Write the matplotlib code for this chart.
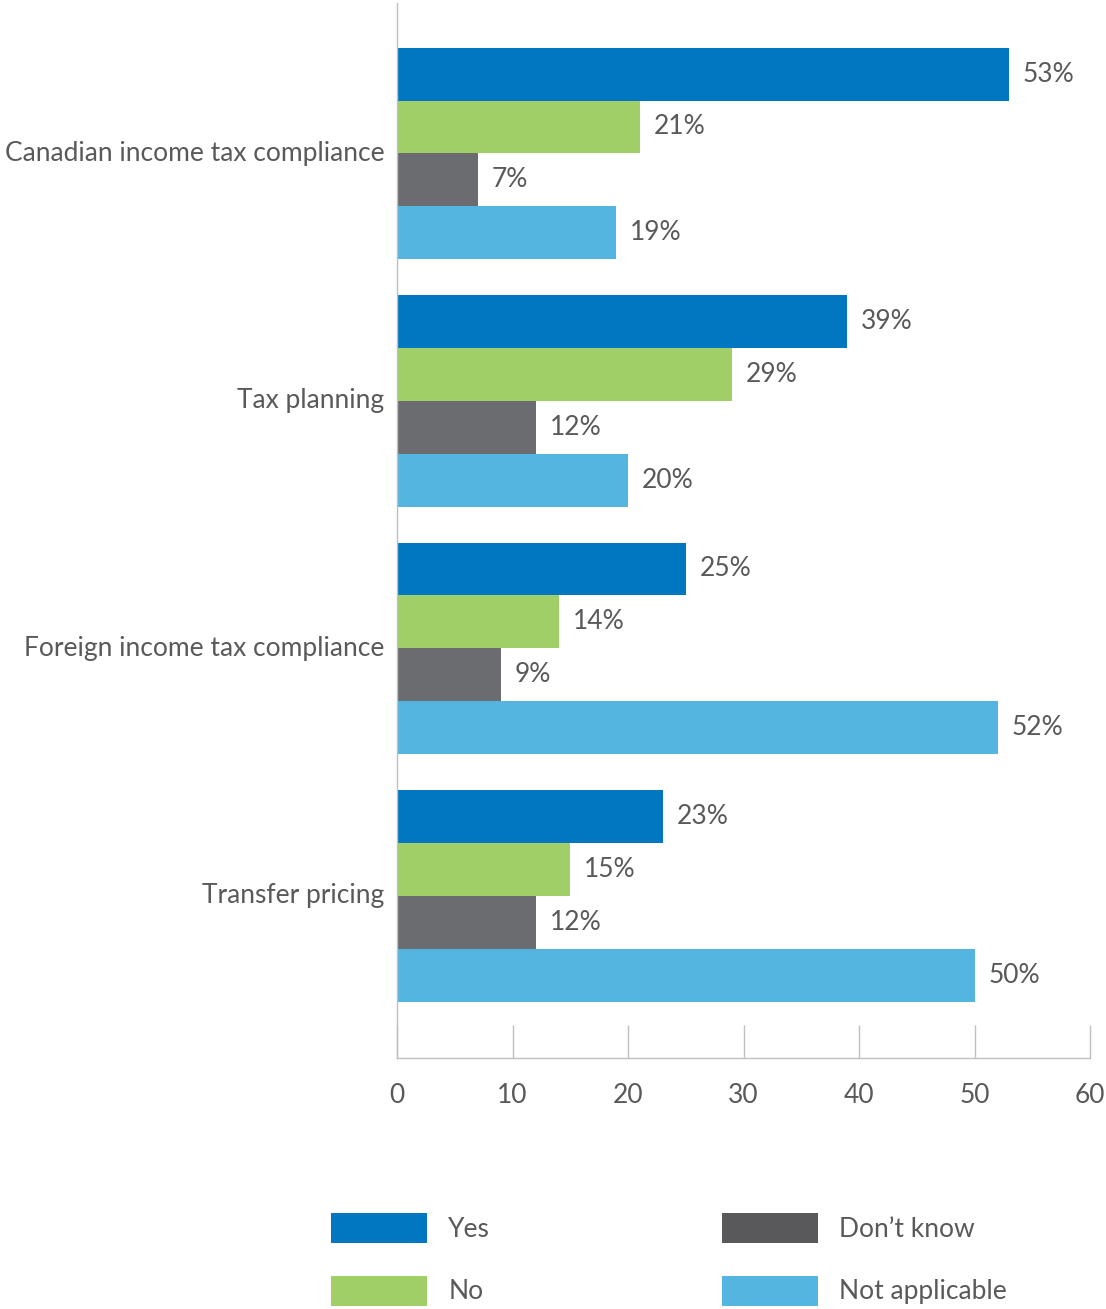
import matplotlib
matplotlib.use("Agg")
import matplotlib.pyplot as plt
from matplotlib.patches import Patch

categories = ["Canadian income tax compliance", "Tax planning",
              "Foreign income tax compliance", "Transfer pricing"]
series = ["Yes", "No", "Don\u2019t know", "Not applicable"]
yes = [53, 39, 25, 23]
no = [21, 29, 14, 15]
dont_know = [7, 12, 9, 12]
not_applicable = [19, 20, 52, 50]
x_ticks = [0, 10, 20, 30, 40, 50, 60]

values = [yes, no, dont_know, not_applicable]
bar_colors = ["#0077C0", "#A1CF67", "#6B6C70", "#54B6E0"]
legend_colors = ["#0077C0", "#A1CF67", "#59595B", "#54B6E0"]
text_color = "#595959"
axis_color = "#BFBFBF"

plt.rcParams["font.family"] = ["Lato", "DejaVu Sans"]
FS = 19

W, H = 1106, 1309
fig = plt.figure(figsize=(W / 100, H / 100), dpi=100)
ax = fig.add_axes([397 / W, 1 - 1058 / H, (1090 - 397) / W, (1058 - 3) / H])

bar_h = 0.214
for s, (vals, col) in enumerate(zip(values, bar_colors)):
    for g, v in enumerate(vals):
        yc = g + (s - 1.5) * bar_h
        ax.barh(yc, v, height=bar_h, color=col, linewidth=0)
        ax.annotate(f"{v}%", xy=(v, yc), xytext=(10, 0), textcoords="offset points",
                    ha="left", va="center", fontsize=FS, color=text_color)

ax.set_xlim(0, 60)
ax.set_ylim(3.655, -0.608)
ax.set_xticks(x_ticks)
ax.set_xticklabels([str(t) for t in x_ticks], fontsize=FS, color=text_color)
ax.tick_params(axis="x", direction="in", length=24, width=1, color=axis_color, pad=18)
ax.set_yticks(range(len(categories)))
ax.set_yticklabels(categories, fontsize=FS, color=text_color, va="center")
ax.tick_params(axis="y", length=0, pad=9)

for side in ["top", "right"]:
    ax.spines[side].set_visible(False)
for side in ["left", "bottom"]:
    ax.spines[side].set_color(axis_color)
    ax.spines[side].set_linewidth(1)

handles = [Patch(facecolor=c, edgecolor="none") for c in legend_colors]
legend_kw = dict(frameon=False, fontsize=FS, labelcolor=text_color, loc="upper left",
                 borderpad=0, borderaxespad=0, handlelength=3.64, handleheight=1.36,
                 handletextpad=0.8, labelspacing=1.25)
leg1 = fig.legend(handles[:2], series[:2], bbox_to_anchor=(331 / W, 1 - 1213 / H), **legend_kw)
leg2 = fig.legend(handles[2:], series[2:], bbox_to_anchor=(722 / W, 1 - 1213 / H), **legend_kw)

fig.savefig("out.png", dpi=100, facecolor="white")
